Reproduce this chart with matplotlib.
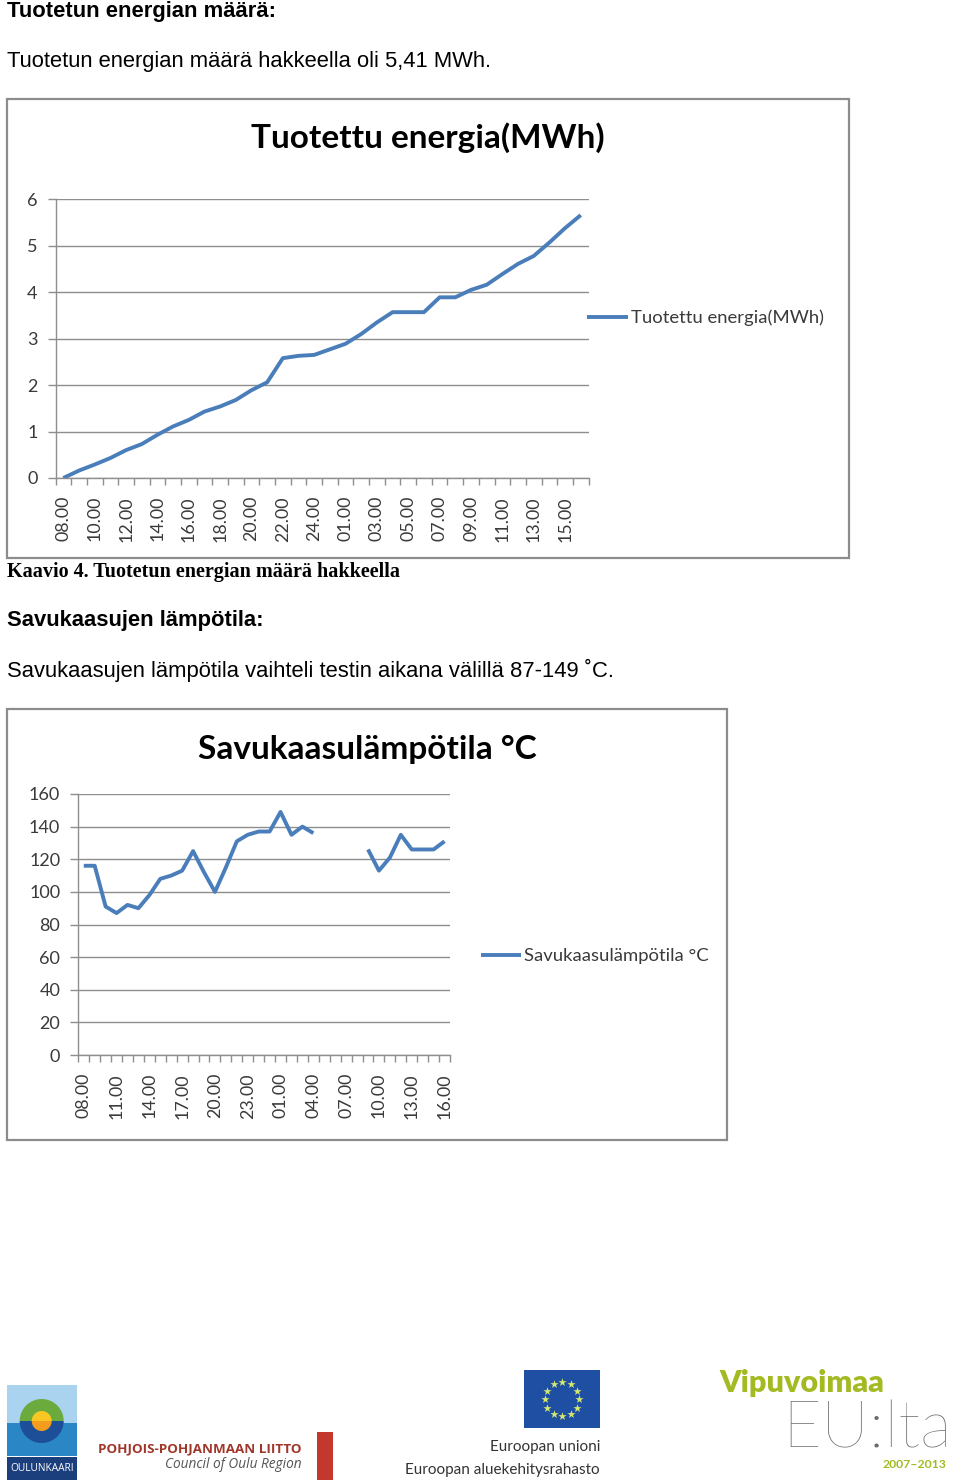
import matplotlib
matplotlib.use('Agg')
import matplotlib.pyplot as plt
import numpy as np
from matplotlib.patches import Rectangle, Wedge

# ---------------- data ----------------
hours = ['08.00', '09.00', '10.00', '11.00', '12.00', '13.00', '14.00', '15.00',
         '16.00', '17.00', '18.00', '19.00', '20.00', '21.00', '22.00', '23.00',
         '24.00', '00.00', '01.00', '02.00', '03.00', '04.00', '05.00', '06.00',
         '07.00', '08.00', '09.00', '10.00', '11.00', '12.00', '13.00', '14.00',
         '15.00', '16.00']

energy = [0.00, 0.16, 0.29, 0.43, 0.60, 0.73, 0.93, 1.11, 1.25, 1.43, 1.54, 1.68,
          1.89, 2.06, 2.58, 2.63, 2.65, 2.77, 2.89, 3.10, 3.35, 3.57, 3.57, 3.57,
          3.89, 3.89, 4.05, 4.16, 4.39, 4.61, 4.78, 5.07, 5.38, 5.66]

temperature = [116, 116, 91, 87, 92, 90, 98, 108, 110, 113, 125, 112, 100, 115,
               131, 135, 137, 137, 149, 135, 140, 136, np.nan, np.nan, np.nan,
               np.nan, 126, 113, 121, 135, 126, 126, 126, 131]

energy_yticks = [0, 1, 2, 3, 4, 5, 6]
temp_yticks = [0, 20, 40, 60, 80, 100, 120, 140, 160]

title1 = 'Tuotettu energia(MWh)'
title2 = 'Savukaasulämpötila °C'

# ---------------- figure ----------------
W, H = 960, 1481
fig = plt.figure(figsize=(W / 100, H / 100), dpi=100)
fig.patch.set_facecolor('white')

bg = fig.add_axes([0, 0, 1, 1])
bg.set_xlim(0, W)
bg.set_ylim(H, 0)
bg.axis('off')

BODY = 'Liberation Sans'
CHART = 'Lato'
LINE_C = '#4a7ebb'
GRID_C = '#8e8e8e'
TXT_C = '#3a3a3a'


def axpos(left, right, top, bottom):
    return [left / W, 1 - bottom / H, (right - left) / W, (bottom - top) / H]


# ---------------- page text ----------------
bg.text(7, 17, 'Tuotetun energian määrä:', family=BODY, fontweight='bold',
        fontsize=15.8, va='baseline', ha='left', color='black')
bg.text(7, 67, 'Tuotetun energian määrä hakkeella oli 5,41 MWh.', family=BODY,
        fontsize=15.8, va='baseline', ha='left', color='black')
bg.text(7, 577, 'Kaavio 4. Tuotetun energian määrä hakkeella', family='Liberation Serif',
        fontweight='bold', fontsize=14.5, va='baseline', ha='left', color='black')
bg.text(7, 626, 'Savukaasujen lämpötila:', family=BODY, fontweight='bold',
        fontsize=15.8, va='baseline', ha='left', color='black')
bg.text(7, 677, 'Savukaasujen lämpötila vaihteli testin aikana välillä 87-149 ˚C.',
        family=BODY, fontsize=15.8, va='baseline', ha='left', color='black')

# chart frames
bg.add_patch(Rectangle((7, 99), 842, 459, fill=False, ec='#8c8c8c', lw=1.6))
bg.add_patch(Rectangle((7, 709), 720, 431, fill=False, ec='#8c8c8c', lw=1.6))

bg.text(428, 138, title1, family=CHART, fontweight='bold', fontsize=24,
        ha='center', va='center', color='black')
bg.text(367, 749, title2, family=CHART, fontweight='bold', fontsize=24,
        ha='center', va='center', color='black')


def style_axes(ax, n, yticks, label_step, xpad):
    x = np.arange(n)
    ax.set_xlim(-0.5, n - 0.5)
    ax.set_ylim(yticks[0], yticks[-1])
    ax.set_yticks(yticks)
    ax.set_yticklabels([str(v) for v in yticks])
    ax.set_xticks(x[::label_step])
    ax.set_xticklabels(hours[::label_step], rotation=90)
    ax.set_xticks(np.arange(-0.5, n, 1.0), minor=True)
    ax.tick_params(axis='x', which='major', length=0, pad=xpad, labelsize=12.8,
                   labelcolor=TXT_C)
    ax.tick_params(axis='x', which='minor', length=5, width=1, color=GRID_C,
                   direction='out')
    ax.tick_params(axis='y', which='major', length=6, width=1, color=GRID_C,
                   pad=7, labelsize=13, labelcolor=TXT_C)
    for lab in ax.get_xticklabels() + ax.get_yticklabels():
        lab.set_family(CHART)
    ax.yaxis.grid(True, color=GRID_C, lw=1)
    ax.set_axisbelow(True)
    for s in ['top', 'right']:
        ax.spines[s].set_visible(False)
    for s in ['left', 'bottom']:
        ax.spines[s].set_color(GRID_C)
        ax.spines[s].set_linewidth(1)


# ---------------- chart 1 ----------------
ax1 = fig.add_axes(axpos(55.5, 588.6, 199.3, 478))
ax1.set_facecolor('none')
ax1.plot(np.arange(len(energy)), energy, color=LINE_C, lw=2.8,
         solid_capstyle='butt', label=title1)
style_axes(ax1, len(hours), energy_yticks, 2, 13)
leg1 = ax1.legend(loc='center left', bbox_to_anchor=(587 / W, 1 - 318 / H),
                  bbox_transform=fig.transFigure, frameon=False, borderpad=0,
                  borderaxespad=0, handlelength=2.2, handletextpad=0.18,
                  prop={'family': CHART, 'size': 13.3})
for t in leg1.get_texts():
    t.set_color(TXT_C)

# ---------------- chart 2 ----------------
ax2 = fig.add_axes(axpos(78.3, 450, 794, 1055))
ax2.set_facecolor('none')
ax2.plot(np.arange(len(temperature)), temperature, color=LINE_C, lw=2.8,
         solid_capstyle='butt', label=title2)
style_axes(ax2, len(hours), temp_yticks, 3, 13)
leg2 = ax2.legend(loc='center left', bbox_to_anchor=(481 / W, 1 - 956 / H),
                  bbox_transform=fig.transFigure, frameon=False, borderpad=0,
                  borderaxespad=0, handlelength=2.15, handletextpad=0.18,
                  prop={'family': CHART, 'size': 13.3})
for t in leg2.get_texts():
    t.set_color(TXT_C)

# ---------------- logos ----------------
# Oulunkaari
bg.add_patch(Rectangle((7, 1385), 70, 38, color='#a9d3ef', lw=0))
bg.add_patch(Rectangle((7, 1423), 70, 33, color='#2b86c6', lw=0))
bg.add_patch(Wedge((41.7, 1421), 22, 180, 360, color='#6bab3e', lw=0))
bg.add_patch(Wedge((41.7, 1421), 22, 0, 180, color='#1d4f98', lw=0))
bg.add_patch(Wedge((41.7, 1421), 10, 180, 360, color='#f9c623', lw=0))
bg.add_patch(Wedge((41.7, 1421), 10, 0, 180, color='#f39c1e', lw=0))
bg.add_patch(Rectangle((7, 1457), 70, 23, color='#1b3f7c', lw=0))
bg.text(42, 1468.5, 'OULUNKAARI', color='white', fontsize=7.3, family='Open Sans',
        ha='center', va='center')

# Pohjois-Pohjanmaan liitto
bg.text(302, 1449, 'POHJOIS-POHJANMAAN LIITTO', color='#a0372a', fontsize=9.6,
        family='Open Sans', fontweight='bold', ha='right', va='center')
bg.text(302, 1465, 'Council of Oulu Region', color='#555555', fontsize=9.8,
        family='Open Sans', style='italic', ha='right', va='center')
bg.add_patch(Rectangle((317, 1432), 16, 48, color='#c4372c', lw=0))

# EU flag
bg.add_patch(Rectangle((524, 1370), 76, 58, color='#1f4fa3', lw=0))
ang = np.linspace(0, 2 * np.pi, 12, endpoint=False)
bg.scatter(562 + 17 * np.cos(ang), 1399 + 17 * np.sin(ang), marker='*', s=38,
           color='#d4e86e', lw=0)
bg.text(600, 1447, 'Euroopan unioni', color='#333333', fontsize=11,
        family='Lato', ha='right', va='center')
bg.text(600, 1470, 'Euroopan aluekehitysrahasto', color='#333333', fontsize=11,
        family='Lato', ha='right', va='center')

# Vipuvoimaa EU:lta
bg.text(719, 1392, 'Vipuvoimaa', color='#a4ba22', fontsize=22, family='Lato',
        fontweight='heavy', ha='left', va='baseline')
bg.text(782, 1447, 'EU:lta', color='#6b6b6b', fontsize=48, family='Lato',
        fontweight='light', ha='left', va='baseline')
bg.text(946, 1464, '2007–2013', color='#a4ba22', fontsize=8.8, family='Lato',
        fontweight='bold', ha='right', va='center')

fig.savefig('out.png', dpi=100, facecolor='white')
